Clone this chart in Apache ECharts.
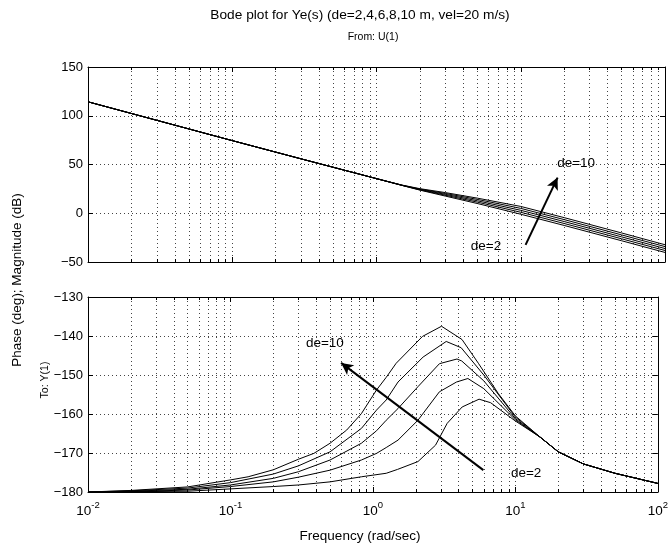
<!DOCTYPE html>
<html><head><meta charset="utf-8">
<script src="https://cdn.jsdelivr.net/npm/echarts@6/dist/echarts.min.js"></script>
<style>html,body{margin:0;padding:0;background:#fff}#c{width:671px;height:554px}</style>
</head><body><div id="c"></div>
<script>
// ---------- data ----------
const xTicks = [0.01, 0.1, 1, 10, 100];
const magTicks = [-50, 0, 50, 100, 150];
const phaseTicks = [-180, -170, -160, -150, -140, -130];

// Magnitude (dB) vs frequency (rad/s)
const magW   = [0.01, 0.1, 0.3, 1, 1.5, 2, 3, 5, 10, 20, 50, 100];
const magDe2  = [114.3, 74.5, 55.8, 35.5, 28.6, 23.7, 17.6, 10.0, -1.0, -12.5, -28.2, -40.2];
const magDe4  = [114.3, 74.5, 55.8, 35.5, 28.6, 24.0, 18.5, 11.4,  1.0, -10.5, -26.2, -38.2];
const magDe6  = [114.3, 74.5, 55.8, 35.5, 28.7, 24.4, 19.4, 12.8,  3.0,  -8.5, -24.2, -36.2];
const magDe8  = [114.3, 74.5, 55.8, 35.5, 28.8, 24.8, 20.3, 14.2,  5.0,  -6.5, -22.2, -34.2];
const magDe10 = [114.3, 74.5, 55.8, 35.5, 28.9, 25.2, 21.2, 15.5,  7.0,  -4.5, -20.2, -32.3];

// Phase (deg) vs frequency (rad/s)
const phW10 = [0.01, 0.02, 0.05, 0.1, 0.133, 0.2, 0.3, 0.385, 0.5, 0.655, 0.83, 1.057, 1.24, 1.455, 2.23, 3.03, 4.22, 5.5, 7.57, 10, 15, 20, 30, 50, 100];
const phDe10 = [-180, -179.6, -178.7, -176.9, -176.1, -174.3, -171.6, -170.1, -167.5, -164.1, -159.9, -153.9, -150.6, -147.0, -140.1, -137.5, -140.9, -147.0, -154.7, -160.5, -166.0, -169.7, -172.8, -175.2, -177.8];
const phW8 = [0.01, 0.02, 0.05, 0.1, 0.2, 0.3, 0.5, 0.83, 1.06, 1.24, 1.5, 2.25, 3.27, 4.16, 6.0, 10, 15, 20, 30, 50, 100];
const phDe8 = [-180, -179.7, -179.0, -177.6, -175.4, -173.3, -169.7, -163.7, -159.0, -156.4, -151.8, -145.4, -141.4, -143.0, -150.0, -160.8, -166.0, -169.7, -172.8, -175.2, -177.8];
const phW6 = [0.01, 0.02, 0.05, 0.1, 0.2, 0.3, 0.5, 0.83, 1.06, 1.24, 1.5, 2.07, 2.93, 3.89, 4.2, 6.0, 10, 15, 20, 30, 50, 100];
const phDe6 = [-180, -179.8, -179.3, -178.2, -176.5, -174.8, -171.8, -167.5, -164.3, -161.6, -158.6, -153.0, -147.1, -145.9, -146.4, -151.5, -161.2, -166.0, -169.7, -172.8, -175.2, -177.8];
const phW4 = [0.01, 0.02, 0.05, 0.1, 0.2, 0.3, 0.5, 0.83, 1.06, 1.24, 1.5, 2.07, 2.93, 3.86, 4.64, 6.0, 10, 15, 20, 30, 50, 100];
const phDe4 = [-180, -179.9, -179.5, -178.6, -177.4, -176.2, -174.4, -171.8, -170.1, -168.6, -166.7, -161.6, -154.3, -151.8, -150.9, -153.5, -161.5, -166.0, -169.7, -172.8, -175.2, -177.8];
const phW2 = [0.01, 0.05, 0.1, 0.2, 0.3, 0.5, 0.83, 1.24, 1.49, 2.07, 2.75, 3.32, 4.23, 5.56, 6.7, 10, 15, 20, 30, 50, 100];
const phDe2 = [-180, -179.8, -179.2, -178.6, -178.2, -177.4, -176.1, -175.2, -174.2, -172.2, -168.0, -162.4, -158.2, -156.2, -157.1, -161.8, -166.0, -169.7, -172.8, -175.2, -177.8];

const deNames = ['de=2', 'de=4', 'de=6', 'de=8', 'de=10'];

// ---------- chart ----------
const FONT = '"Liberation Sans", Arial, Helvetica, sans-serif';
const chart = echarts.init(document.getElementById('c'), null, {renderer: 'canvas'});
const pair = (ws, vs) => ws.map((w, i) => [w, vs[i]]);
const dotted = {color: '#444', width: 1, type: [1, 3]};

function xAx(gi, pos, labels) {
  return {
    type: 'log', logBase: 10, min: xTicks[0], max: xTicks[xTicks.length - 1], gridIndex: gi, position: pos,
    axisLine: {show: true, onZero: false, lineStyle: {color: '#000', width: 1}},
    axisTick: {show: true, inside: true, length: 5, lineStyle: {color: '#000'}},
    minorTick: {show: true, splitNumber: 9, length: 3, lineStyle: {color: '#000'}},
    splitLine: {show: pos === 'bottom', lineStyle: dotted},
    minorSplitLine: {show: pos === 'bottom', lineStyle: dotted},
    axisLabel: labels ? {
      show: true, margin: 8, hideOverlap: false,
      formatter: v => '{b|10}{s|' + Math.round(Math.log10(v)) + '}',
      rich: {b: {fontSize: 13.5, fontFamily: FONT, color: '#000', lineHeight: 22}, s: {fontSize: 9.5, fontFamily: FONT, color: '#000', verticalAlign: 'top'}}
    } : {show: false}
  };
}
function yAx(gi, pos, ticks, labels) {
  return {
    type: 'value', gridIndex: gi, position: pos, min: ticks[0], max: ticks[ticks.length - 1], interval: ticks[1] - ticks[0],
    axisLine: {show: true, onZero: false, lineStyle: {color: '#000', width: 1}},
    axisTick: {show: true, inside: true, length: 5, lineStyle: {color: '#000'}},
    splitLine: {show: pos === 'left', lineStyle: dotted},
    axisLabel: labels ? {show: true, margin: 5, fontSize: 13, fontFamily: FONT, color: '#000',
      formatter: v => (v < 0 ? '\u2212' + (-v) : '' + v)} : {show: false}
  };
}

const magSets = [magDe2, magDe4, magDe6, magDe8, magDe10];
const phSets = [[phW2, phDe2], [phW4, phDe4], [phW6, phDe6], [phW8, phDe8], [phW10, phDe10]];
const series = [];
magSets.forEach((m, i) => series.push({
  name: 'mag ' + deNames[i], type: 'line', xAxisIndex: 0, yAxisIndex: 0, data: pair(magW, m),
  showSymbol: false, symbol: 'none', lineStyle: {color: '#000', width: 1}, z: 3
}));
phSets.forEach((p, i) => series.push({
  name: 'phase ' + deNames[i], type: 'line', xAxisIndex: 2, yAxisIndex: 2, data: pair(p[0], p[1]),
  showSymbol: false, symbol: 'none', lineStyle: {color: '#000', width: 1}, z: 3
}));
const lbl = (t) => ({show: true, position: 'inside', formatter: t, color: '#000', fontSize: 13.5, fontFamily: FONT});
const arrowML = (a, b) => ({silent: true, symbol: ['none', 'arrow'], symbolSize: 10, animation: false,
  label: {show: false}, emphasis: {disabled: true},
  lineStyle: {color: '#000', width: 2, type: 'solid'},
  data: [[{coord: a, symbol: 'none'}, {coord: b, symbol: 'arrow', symbolSize: [9, 12]}]]});
// annotations on the top plot
series[0].markLine = arrowML([10.8, -32.5], [18.0, 36.6]);
series[0].markPoint = {silent: true, symbol: 'circle', symbolSize: 0, animation: false,
  data: [{coord: [24.2, 51.7], label: lbl(deNames[4])}, {coord: [5.74, -33.6], label: lbl(deNames[0])}]};
// annotations on the bottom plot
series[5].markLine = arrowML([5.96, -174.4], [0.598, -146.9]);
series[5].markPoint = {silent: true, symbol: 'circle', symbolSize: 0, animation: false,
  data: [{coord: [0.46, -141.9], label: lbl(deNames[4])}, {coord: [11.9, -175.3], label: lbl(deNames[0])}]};

const txt = (t, x, y, size, rot) => ({type: 'text', x: x, y: y, rotation: rot || 0,
  style: {text: t, fill: '#000', fontSize: size, fontFamily: FONT, align: 'center', verticalAlign: 'middle'}});

chart.setOption({
  animation: false,
  backgroundColor: '#fff',
  grid: [{left: 88, right: 6, top: 67, height: 195}, {left: 88, right: 6, top: 297, height: 195}],
  xAxis: [xAx(0, 'bottom', false), xAx(0, 'top', false), xAx(1, 'bottom', true), xAx(1, 'top', false)],
  yAxis: [yAx(0, 'left', magTicks, true), yAx(0, 'right', magTicks, false), yAx(1, 'left', phaseTicks, true), yAx(1, 'right', phaseTicks, false)],
  series: series,
  graphic: [
    txt('Bode plot for Ye(s) (de=2,4,6,8,10 m, vel=20 m/s)', 360, 15, 13.7),
    txt('From: U(1)', 373, 37, 10.5),
    txt('Frequency (rad/sec)', 360, 536, 13.5),
    txt('Phase (deg); Magnitude (dB)', 17, 280, 13.5, Math.PI / 2),
    txt('To: Y(1)', 45, 380, 10.5, Math.PI / 2)
  ]
});
</script></body></html>
